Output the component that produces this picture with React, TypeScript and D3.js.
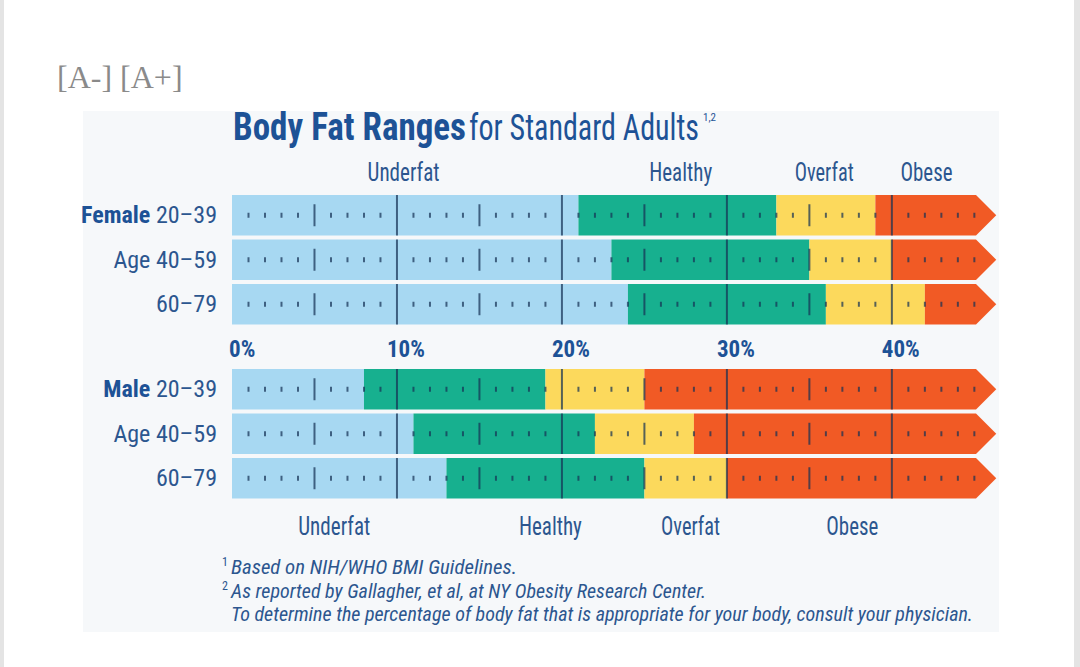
import React from 'react';
import * as d3 from 'd3';

const categories = ['Underfat', 'Healthy', 'Overfat', 'Obese'];
const categoryColors = ['#a7d8f2', '#17b08f', '#fcd95c', '#f15a25'];
const ageGroups = ['20–39', '40–59', '60–79'];
const agePrefix = ['', 'Age', ''];
// upper limit (% body fat) of each range, one entry per age group
const femaleUnderfat = [21, 23, 24];
const femaleHealthy = [33, 35, 36];
const femaleOverfat = [39, 40, 42];
const maleUnderfat = [8, 11, 13];
const maleHealthy = [19, 22, 25];
const maleOverfat = [25, 28, 30];
const percentTicks = [0, 10, 20, 30, 40];
const scaleMax = 45.1;
// where the category captions sit, in % on the scale
const topCaptionPct = [10.4, 27.2, 35.9, 42.1];
const bottomCaptionPct = [6.2, 19.3, 27.8, 37.6];
const footnotes = [
  { mark: '1', text: 'Based on NIH/WHO BMI Guidelines.' },
  { mark: '2', text: 'As reported by Gallagher, et al, at NY Obesity Research Center.' },
  { mark: '', text: 'To determine the percentage of body fat that is appropriate for your body, consult your physician.' },
];

const W = 1080;
const H = 667;
const NARROW = '"Liberation Sans Narrow", "Arial Narrow", "Roboto Condensed", "Liberation Sans", sans-serif';
const NAVY = '#1d5296';
const LABEL = '#2c568f';
const TICK = 'rgba(22,50,84,0.72)';

const x = d3.scaleLinear().domain([0, scaleMax]).range([232, 976]);
const yFemale = d3.scaleBand().domain(ageGroups).range([195, 324.5]).paddingInner(0.09);
const yMale = d3.scaleBand().domain(ageGroups).range([369, 498.5]).paddingInner(0.09);

// squeeze a label to the width it has in the original artwork
const captionWidth: Record<string, number> = { Underfat: 72, Healthy: 63, Overfat: 59, Obese: 52 };
const footnoteWidth = [286, 475, 742];

function Row({ cuts, y0, h }: { cuts: number[]; y0: number; h: number }) {
  const edges = [0, ...cuts];
  const xEnd = x(scaleMax);
  const last = cuts[cuts.length - 1];
  const arrow = d3.path();
  arrow.moveTo(x(last), y0);
  arrow.lineTo(xEnd, y0);
  arrow.lineTo(xEnd + h / 2, y0 + h / 2);
  arrow.lineTo(xEnd, y0 + h);
  arrow.lineTo(x(last), y0 + h);
  arrow.closePath();
  const cy = y0 + h / 2;
  return (
    <g>
      {cuts.map((c, i) => (
        <rect key={i} x={x(edges[i])} y={y0} width={x(c) - x(edges[i])} height={h} fill={categoryColors[i]} />
      ))}
      <path d={arrow.toString()} fill={categoryColors[3]} />
      {d3.range(1, 46).map((p) => {
        const len = p % 10 === 0 ? h : p % 5 === 0 && p < 45 ? 22 : 5;
        return (
          <line key={p} x1={x(p)} x2={x(p)} y1={cy - len / 2} y2={cy + len / 2}
            stroke={TICK} strokeWidth={2} />
        );
      })}
    </g>
  );
}

function RowLabel({ i, y, group }: { i: number; y: number; group: string }) {
  return (
    <text x={217} y={y} textAnchor="end" fontFamily={NARROW} fontSize={24} fill={LABEL}>
      {i === 0 && <tspan fontWeight="bold" fill={NAVY}>{group} </tspan>}
      {agePrefix[i] && <tspan>{agePrefix[i]} </tspan>}
      <tspan>{ageGroups[i]}</tspan>
    </text>
  );
}

export default function App() {
  const femaleCuts = ageGroups.map((_, i) => [femaleUnderfat[i], femaleHealthy[i], femaleOverfat[i]]);
  const maleCuts = ageGroups.map((_, i) => [maleUnderfat[i], maleHealthy[i], maleOverfat[i]]);
  const bw = yFemale.bandwidth();

  return (
    <div style={{ position: 'absolute', left: 0, top: 0 }}>
      <svg width={W} height={H} style={{ display: 'block' }}>
        <rect width={W} height={H} fill="#ffffff" />
        <rect x={0} y={0} width={4} height={H} fill="#e4e4e4" />
        <rect x={W - 6} y={0} width={6} height={H} fill="#e4e4e4" />
        <text x={57} y={88} fontFamily='"Liberation Serif", serif' fontSize={32} fill="#8a8a8a">[A-] [A+]</text>

        <rect x={83} y={111} width={916} height={521} fill="#f6f8fa" />

        <text x={233} y={140} fontFamily={NARROW} fontWeight="bold" fontSize={38} fill={NAVY}
          textLength={233} lengthAdjust="spacingAndGlyphs">Body Fat Ranges</text>
        <text x={469} y={140} fontFamily={NARROW} fontSize={37} fill={NAVY}
          textLength={230} lengthAdjust="spacingAndGlyphs">for Standard Adults</text>
        <text x={703} y={121} fontFamily={NARROW} fontSize={11} fill={NAVY}>1,2</text>

        {categories.map((c, i) => (
          <text key={c} x={x(topCaptionPct[i])} y={181} textAnchor="middle" fontFamily={NARROW} fontSize={25} fill={LABEL}
            textLength={captionWidth[c]} lengthAdjust="spacingAndGlyphs">{c}</text>
        ))}

        {femaleCuts.map((cuts, i) => (
          <Row key={'f' + i} cuts={cuts} y0={yFemale(ageGroups[i])!} h={bw} />
        ))}
        {maleCuts.map((cuts, i) => (
          <Row key={'m' + i} cuts={cuts} y0={yMale(ageGroups[i])!} h={bw} />
        ))}

        {ageGroups.map((_, i) => (
          <RowLabel key={'fl' + i} i={i} group="Female" y={yFemale(ageGroups[i])! + bw / 2 + 8} />
        ))}
        {ageGroups.map((_, i) => (
          <RowLabel key={'ml' + i} i={i} group="Male" y={yMale(ageGroups[i])! + bw / 2 + 8} />
        ))}

        {percentTicks.map((t) => (
          <text key={t} x={x(t) - (t === 0 ? 3 : 10)} y={357} fontFamily={NARROW} fontWeight="bold" fontSize={23} fill={NAVY}>{t}%</text>
        ))}

        {categories.map((c, i) => (
          <text key={'b' + c} x={x(bottomCaptionPct[i])} y={535} textAnchor="middle" fontFamily={NARROW} fontSize={25} fill={LABEL}
            textLength={captionWidth[c]} lengthAdjust="spacingAndGlyphs">{c}</text>
        ))}

        {footnotes.map((f, i) => (
          <g key={i}>
            {f.mark && <text x={222} y={566 + i * 23.5} fontFamily={NARROW} fontSize={12} fill={LABEL}>{f.mark}</text>}
            <text x={231} y={574 + i * 23.5} fontFamily={NARROW} fontStyle="italic" fontSize={21} fill={LABEL}
              textLength={footnoteWidth[i]} lengthAdjust="spacingAndGlyphs">{f.text}</text>
          </g>
        ))}
      </svg>
    </div>
  );
}
